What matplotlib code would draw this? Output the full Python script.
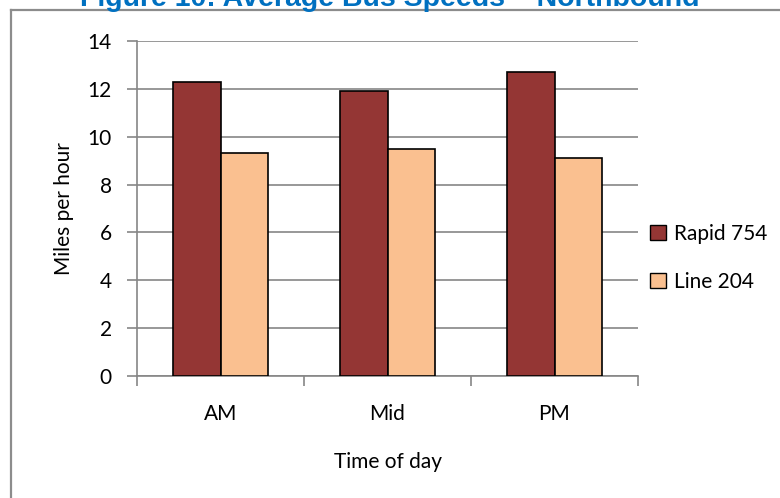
import numpy as np
import matplotlib.pyplot as plt
from matplotlib.patches import Patch
from matplotlib.lines import Line2D

# data
periods = ['AM', 'Mid', 'PM']
rapid_754 = [12.3, 11.9, 12.7]
line_204 = [9.3, 9.5, 9.1]
series_names = ['Rapid 754', 'Line 204']

rapid_color = '#943634'
line_color = '#FAC090'
grid_gray = '#868686'

plt.rcParams['font.family'] = ['Lato', 'DejaVu Sans']

fig = plt.figure(figsize=(7.8, 4.98), dpi=100)
ax = fig.add_axes([137 / 780, 1 - 376 / 498, (638 - 137) / 780, (376 - 41) / 498])

# outer chart frame (only top and left visible in crop)
fig.add_artist(Line2D([10.5 / 780, 10.5 / 780], [0, 1 - 10.5 / 498], color='#8c8c8c', lw=1.6,
                      transform=fig.transFigure))
fig.add_artist(Line2D([10.5 / 780, 1], [1 - 10.5 / 498, 1 - 10.5 / 498], color='#8c8c8c', lw=1.6,
                      transform=fig.transFigure))

# title, clipped at the top like the reference
fig.text(0.5, 1 - 6 / 498, 'Figure 10: Average Bus Speeds \u2013 Northbound', ha='center', va='baseline',
         color='#0070C0', fontsize=20.5, fontweight='bold', family=['Liberation Sans', 'DejaVu Sans'])

x = np.arange(len(periods))
w = 1 / 3.5
ax.bar(x - w / 2, rapid_754, w, color=rapid_color, edgecolor='black', lw=1.2, zorder=3)
ax.bar(x + w / 2, line_204, w, color=line_color, edgecolor='black', lw=1.2, zorder=3)

ax.set_xlim(-0.5, len(periods) - 0.5)
ax.set_ylim(0, 14)
ax.set_yticks(np.arange(0, 15, 2))
ax.yaxis.grid(True, color=grid_gray, lw=1.2, zorder=0)

# category boundaries as major ticks, labels on minor ticks at centers
ax.set_xticks(np.arange(-0.5, len(periods), 1.0))
ax.set_xticklabels([])
ax.set_xticks(x, minor=True)
ax.set_xticklabels(periods, minor=True)
ax.tick_params(axis='x', which='major', length=7, color=grid_gray, width=1.2)
ax.tick_params(axis='x', which='minor', length=0, pad=20, labelsize=15)
ax.tick_params(axis='y', length=7, color=grid_gray, width=1.2, labelsize=15, pad=11)

for s in ['top', 'right']:
    ax.spines[s].set_visible(False)
for s in ['left', 'bottom']:
    ax.spines[s].set_color(grid_gray)
    ax.spines[s].set_linewidth(1.2)

ax.set_xlabel('Time of day', fontsize=15, labelpad=20)
ax.set_ylabel('Miles per hour', fontsize=15, labelpad=10)

handles = [Patch(facecolor=rapid_color, edgecolor='black', lw=1.0),
           Patch(facecolor=line_color, edgecolor='black', lw=1.0)]
fig.legend(handles, series_names, loc='center left', bbox_to_anchor=(650 / 780, 1 - 258 / 498),
           frameon=False, fontsize=15, handlelength=0.75, handleheight=0.75, handletextpad=0.4,
           labelspacing=1.35, borderaxespad=0, borderpad=0)

fig.savefig('out.png', dpi=100)
